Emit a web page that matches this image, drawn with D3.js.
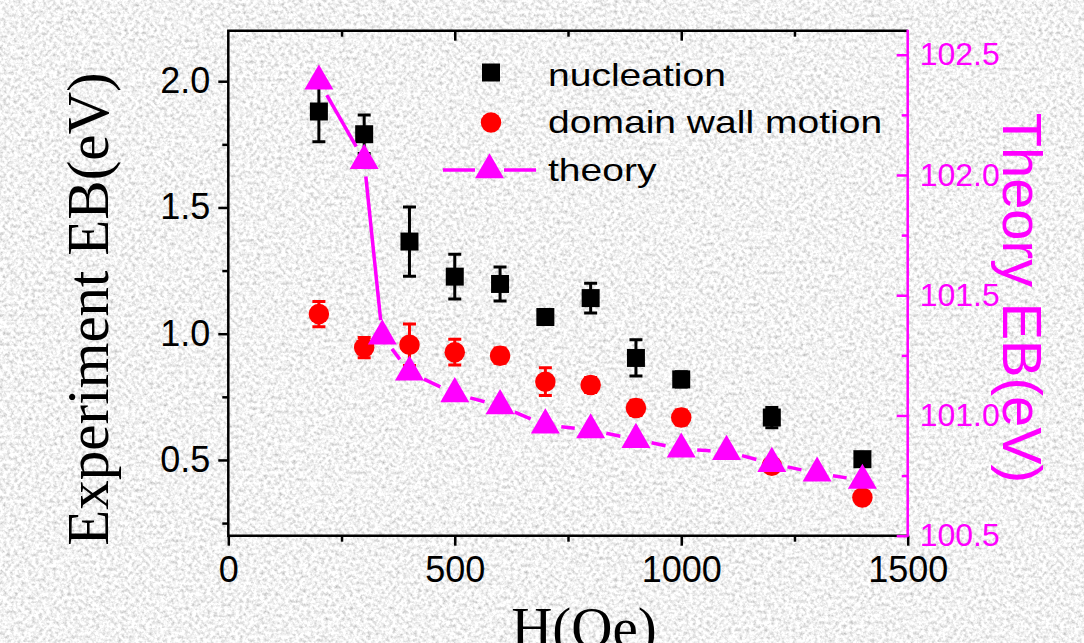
<!DOCTYPE html>
<html>
<head>
<meta charset="utf-8">
<script src="https://cdn.jsdelivr.net/npm/d3@7"></script>
<style>
body{margin:0;padding:0;overflow:hidden;}
svg{display:block;}
</style>
</head>
<body>
<div id="chart"></div>
<script>
// field values (Oe)
var H=[200,300,400,500,600,700,800,900,1000,1200,1400];
var nucleation=[1.88,1.79,1.365,1.226,1.197,1.066,1.141,0.904,0.819,0.668,0.503];
var nucleationErr=[0.12,0.076,0.137,0.089,0.067,0.03,0.059,0.072,0.03,0.04,0.02];
var domainWall=[1.078,0.945,0.956,0.927,0.913,0.81,0.797,0.706,0.668,0.477,0.351];
var domainWallErr=[0.05,0.04,0.082,0.051,0.03,0.055,0.03,0.03,0.03,0.02,0.02];
var theoryH=[200,300,340,400,500,600,700,800,900,1000,1100,1200,1300,1400];
var theory=[102.39,102.06,101.33,101.18,101.09,101.04,100.96,100.94,100.90,100.86,100.85,100.80,100.76,100.73];

var xTicks=[0,500,1000,1500];
var xMinor=[250,750,1250];
var yTicks=[0.5,1.0,1.5,2.0];
var yMinor=[0.25,0.75,1.25,1.75];
var y2Ticks=[100.5,101.0,101.5,102.0,102.5];
var y2Minor=[100.75,101.25,101.75,102.25];
var legendNames=["nucleation","domain wall motion","theory"];

var width=1084,height=643;
var margin={left:228.3,right:1084-907.7,top:30.7,bottom:643-535.7};
var magenta="#ff00ff";
var sans="'Liberation Sans', Arial, sans-serif";
var serif="'Liberation Serif', 'Times New Roman', serif";

var svg=d3.select("#chart").append("svg").attr("width",width).attr("height",height);

// grainy grey background
var defs=svg.append("defs");
var f=defs.append("filter").attr("id","grain").attr("filterUnits","userSpaceOnUse")
.attr("x",0).attr("y",0).attr("width",width).attr("height",height);
f.append("feTurbulence").attr("type","fractalNoise").attr("baseFrequency",0.28).attr("numOctaves",3).attr("seed",7).attr("result","n");
f.append("feColorMatrix").attr("in","n").attr("type","matrix")
.attr("values","0.95 0 0 0 0.42  0.95 0 0 0 0.42  0.95 0 0 0 0.42  0 0 0 0 1");
svg.append("rect").attr("width",width).attr("height",height).attr("fill","#e2e2e2").attr("filter","url(#grain)");

var x=d3.scaleLinear().domain([0,1500]).range([margin.left,width-margin.right]);
var y=d3.scaleLinear().domain([0.2,2.2]).range([height-margin.bottom,margin.top]);
var y2=d3.scaleLinear().domain([100.5,102.6]).range([height-margin.bottom,margin.top]);

function styleAxis(g,color,size){
  g.select(".domain").remove();
  g.selectAll("line").attr("stroke",color).attr("stroke-width",2.5);
  g.selectAll("text").attr("fill",color).style("font-family",sans).style("font-size",size+"px");
}

// bottom axis
svg.append("g").attr("transform","translate(0,"+y.range()[0]+")")
.call(d3.axisBottom(x).tickValues(xTicks).tickFormat(d3.format("d")).tickSize(10).tickPadding(11))
.call(g=>styleAxis(g,"#000",36));
svg.append("g").attr("transform","translate(0,"+y.range()[0]+")")
.call(d3.axisBottom(x).tickValues(xMinor).tickFormat("").tickSize(6))
.call(g=>styleAxis(g,"#000",36));
// top frame, ticks pointing in
svg.append("g").attr("transform","translate(0,"+margin.top+")")
.call(d3.axisBottom(x).tickValues([500,1000]).tickFormat("").tickSize(10))
.call(g=>styleAxis(g,"#000",36));
svg.append("g").attr("transform","translate(0,"+margin.top+")")
.call(d3.axisBottom(x).tickValues(xMinor).tickFormat("").tickSize(6))
.call(g=>styleAxis(g,"#000",36));

// left axis
svg.append("g").attr("transform","translate("+margin.left+",0)")
.call(d3.axisLeft(y).tickValues(yTicks).tickFormat(d3.format(".1f")).tickSize(10).tickPadding(8))
.call(g=>styleAxis(g,"#000",36));
svg.append("g").attr("transform","translate("+margin.left+",0)")
.call(d3.axisLeft(y).tickValues(yMinor).tickFormat("").tickSize(6))
.call(g=>styleAxis(g,"#000",36));

// frame
var fr=svg.append("g").attr("fill","none").attr("stroke-width",2.5);
fr.append("path").attr("stroke","#000")
.attr("d","M"+x.range()[1]+","+margin.top+"H"+margin.left+"V"+y.range()[0]+"H"+x.range()[1]);

// right axis (theory)
svg.append("g").attr("transform","translate("+x.range()[1]+",0)")
.call(d3.axisRight(y2).tickValues(y2Ticks).tickFormat(d3.format(".1f")).tickSize(-11).tickPadding(12))
.call(g=>styleAxis(g,magenta,32));
svg.append("g").attr("transform","translate("+x.range()[1]+",0)")
.call(d3.axisRight(y2).tickValues(y2Minor).tickFormat("").tickSize(-6))
.call(g=>styleAxis(g,magenta,32));
fr.append("line").attr("stroke",magenta)
.attr("x1",x.range()[1]).attr("x2",x.range()[1]).attr("y1",margin.top-1).attr("y2",y.range()[0]+1);

// axis titles
svg.append("text").attr("transform","translate(108,309) rotate(-90)")
.attr("text-anchor","middle").style("font-family",serif).style("font-size","59px")
.text("Experiment EB(eV)");
svg.append("text").attr("transform","translate(584,647)")
.attr("text-anchor","middle").style("font-family",serif).style("font-size","57px")
.text("H(Oe)");
svg.append("text").attr("transform","translate(1003,298) rotate(90)")
.attr("text-anchor","middle").attr("fill",magenta).style("font-family",sans).style("font-size","56px")
.text("Theory EB(eV)");

// error bars
function errorBars(vals,errs,color){
  var g=svg.append("g").attr("stroke",color).attr("stroke-width",3).attr("fill","none");
  H.forEach(function(h,i){
    var cx=x(h),t=y(vals[i]+errs[i]),b=y(vals[i]-errs[i]);
    g.append("path").attr("d","M"+cx+","+t+"V"+b+"M"+(cx-6.5)+","+t+"H"+(cx+6.5)+"M"+(cx-6.5)+","+b+"H"+(cx+6.5));
  });
}
errorBars(nucleation,nucleationErr,"#000");
errorBars(domainWall,domainWallErr,"red");

var sq=d3.symbol().type(d3.symbolSquare).size(324);
var ci=d3.symbol().type(d3.symbolCircle).size(330);
var tri=d3.symbol().type(d3.symbolTriangle).size(364);

svg.append("g").selectAll("path").data(H).enter().append("path")
.attr("d",sq).attr("fill","#000")
.attr("transform",(d,i)=>"translate("+x(d)+","+y(nucleation[i])+")");
svg.append("g").selectAll("path").data(H).enter().append("path")
.attr("d",ci).attr("fill","red")
.attr("transform",(d,i)=>"translate("+x(d)+","+y(domainWall[i])+")");

// theory line with gaps around symbols
var gap=16;
var lineG=svg.append("g").attr("stroke",magenta).attr("stroke-width",3.5);
for(var i=0;i<theoryH.length-1;i++){
  var x1=x(theoryH[i]),y1=y2(theory[i]),x2=x(theoryH[i+1]),yy2=y2(theory[i+1]);
  var dx=x2-x1,dy=yy2-y1,len=Math.sqrt(dx*dx+dy*dy);
  if(len<=2*gap) continue;
  var ux=dx/len,uy=dy/len;
  lineG.append("line").attr("x1",x1+ux*gap).attr("y1",y1+uy*gap).attr("x2",x2-ux*gap).attr("y2",yy2-uy*gap);
}
svg.append("g").selectAll("path").data(theoryH).enter().append("path")
.attr("d",tri).attr("fill",magenta)
.attr("transform",(d,i)=>"translate("+x(d)+","+y2(theory[i])+")");

// legend
var lg=svg.append("g");
lg.append("path").attr("d",sq).attr("fill","#000").attr("transform","translate(491,72.5)");
lg.append("path").attr("d",ci).attr("fill","red").attr("transform","translate(491,122.5)");
lg.append("line").attr("x1",443).attr("x2",475).attr("y1",170).attr("y2",170).attr("stroke",magenta).attr("stroke-width",3.5);
lg.append("line").attr("x1",504).attr("x2",536).attr("y1",170).attr("y2",170).attr("stroke",magenta).attr("stroke-width",3.5);
lg.append("path").attr("d",tri).attr("fill",magenta).attr("transform","translate(489.5,170)");
var baselines=[86,133,181];
lg.selectAll("text.leg").data(legendNames).enter().append("text").attr("class","leg")
.attr("transform",(d,i)=>"translate(548,"+baselines[i]+") scale(1.22,1)")
.style("font-family",sans).style("font-size","32px").text(d=>d);
</script>
</body>
</html>
